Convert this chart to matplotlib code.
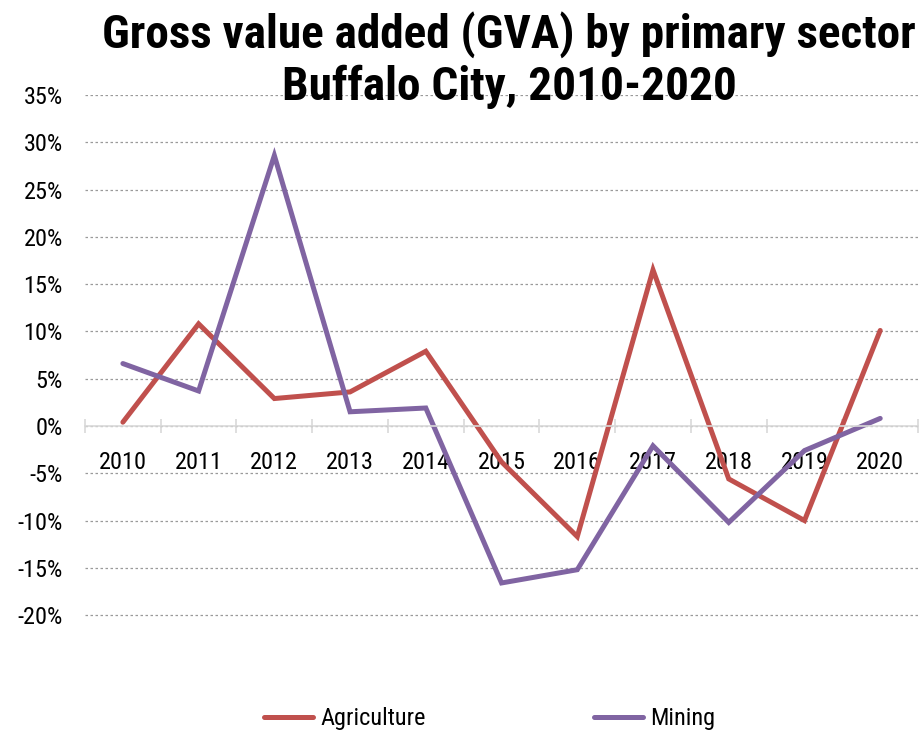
"""GVA growth by primary sector, Buffalo City 2010-2020."""

import matplotlib
matplotlib.use("Agg")
import matplotlib.pyplot as plt
from matplotlib.ticker import FuncFormatter

plt.rcParams["font.family"] = ["Roboto Condensed", "PT Sans Narrow", "DejaVu Sans"]

years = ["2010", "2011", "2012", "2013", "2014", "2015", "2016", "2017", "2018", "2019", "2020"]
agriculture = [0.4, 10.8, 2.9, 3.6, 7.9, -3.8, -11.7, 16.5, -5.6, -10.0, 10.1]
mining = [6.6, 3.7, 28.6, 1.5, 1.9, -16.6, -15.2, -2.1, -10.2, -2.6, 0.8]

red = "#C0504D"
purple = "#8064A2"

fig = plt.figure(figsize=(9.19, 7.34), dpi=100)
ax = fig.add_axes([0.0925, 0.1594, 0.9065, 0.7112])

x = list(range(len(years)))
ax.plot(x, [v / 100 for v in agriculture], color=red, lw=3.6, label="Agriculture",
        solid_capstyle="round", solid_joinstyle="miter")
ax.plot(x, [v / 100 for v in mining], color=purple, lw=3.6, label="Mining",
        solid_capstyle="round", solid_joinstyle="miter")

ax.set_xlim(-0.5, len(years) - 0.5)
ax.set_ylim(-0.202, 0.35)
ax.set_yticks([i / 100 for i in range(-20, 40, 5)])
ax.yaxis.set_major_formatter(FuncFormatter(lambda v, p: f"{v * 100:.0f}%"))
ax.grid(axis="y", color="#9a9a9a", ls=(0, (2, 2)), lw=0.9)
ax.set_axisbelow(True)

for side in ["top", "right", "left"]:
    ax.spines[side].set_visible(False)
ax.spines["bottom"].set_position(("data", 0))
ax.spines["bottom"].set_color("#d9d9d9")
ax.spines["bottom"].set_linewidth(1.2)

# category labels centred, tick marks between categories
ax.set_xticks(x)
ax.set_xticklabels(years)
ax.set_xticks([i - 0.5 for i in range(len(years) + 1)], minor=True)
ax.tick_params(axis="x", which="major", length=0, pad=18, labelsize=17.5)
ax.tick_params(axis="x", which="minor", length=10, direction="inout",
               color="#d9d9d9", width=1.2)
ax.tick_params(axis="y", length=0, pad=16, labelsize=17.5)

fig.text(0.554, 1 - 100 / 734, "Gross value added (GVA) by primary sector\nBuffalo City, 2010-2020",
         ha="center", va="baseline", fontsize=34, fontweight="bold", linespacing=1.18)

fig.legend(loc="center", bbox_to_anchor=(0.533, 0.021), ncol=2, frameon=False,
           fontsize=17.5, handlelength=2.0, handletextpad=0.3, columnspacing=6.95)

fig.savefig("out.png", dpi=100)
